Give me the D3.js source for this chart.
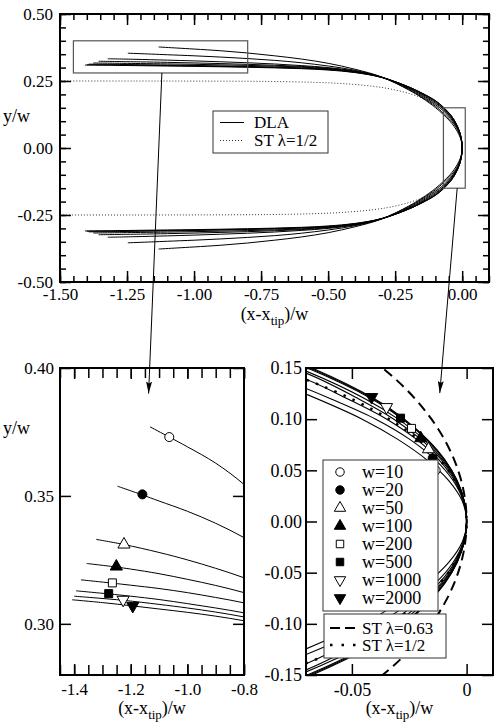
<!DOCTYPE html>
<html>
<head>
<meta charset="utf-8">
<script src="https://cdn.jsdelivr.net/npm/d3@7"></script>
<style>
body { margin: 0; background: #fff; }
text { font-family: "Liberation Serif", "Times New Roman", serif; fill: #000; }
</style>
</head>
<body>
<svg id="fig" width="494" height="726"></svg>
<script>
// finger profiles, upper half, [x/w, y/w] from the tip outwards
var dlaW = [10, 20, 50, 100, 200, 500, 1000, 2000];
var dla10 = [[0,0],[-0.0019,0.02],[-0.0078,0.04],[-0.0172,0.06],[-0.0298,0.08],[-0.0455,0.10],[-0.07,0.1245],[-0.1,0.151],[-0.15,0.187],[-0.2,0.217],[-0.3,0.265],[-0.4,0.294],[-0.5,0.316],[-0.6,0.332],[-0.7,0.344],[-0.8,0.3545],[-0.9,0.3628],[-1.0,0.3692],[-1.064,0.373],[-1.132,0.377]];
var dla20 = [[0,0],[-0.00147,0.02],[-0.0059,0.04],[-0.0135,0.06],[-0.0246,0.08],[-0.0396,0.10],[-0.0593,0.12],[-0.07,0.130],[-0.1,0.156],[-0.15,0.190],[-0.2,0.219],[-0.3,0.264],[-0.4,0.290],[-0.5,0.306],[-0.6,0.318],[-0.7,0.327],[-0.8,0.3337],[-0.9,0.3393],[-1.0,0.344],[-1.1,0.348],[-1.159,0.3504],[-1.247,0.3538]];
var dla50 = [[0,0],[-0.0013,0.02],[-0.00524,0.04],[-0.01195,0.06],[-0.0217,0.08],[-0.0348,0.10],[-0.052,0.12],[-0.07,0.139],[-0.1,0.162],[-0.15,0.194],[-0.2,0.222],[-0.3,0.264],[-0.4,0.2875],[-0.5,0.300],[-0.6,0.3075],[-0.7,0.3135],[-0.8,0.318],[-0.9,0.3217],[-1.0,0.325],[-1.1,0.3279],[-1.224,0.331],[-1.322,0.333]];
var dla100 = [[0,0],[-0.00119,0.02],[-0.00478,0.04],[-0.0109,0.06],[-0.0198,0.08],[-0.0317,0.10],[-0.0472,0.12],[-0.07,0.145],[-0.1,0.167],[-0.15,0.198],[-0.2,0.224],[-0.3,0.264],[-0.4,0.286],[-0.5,0.2975],[-0.6,0.3045],[-0.7,0.3088],[-0.8,0.3122],[-0.9,0.315],[-1.0,0.3174],[-1.1,0.3196],[-1.2,0.3214],[-1.251,0.3222],[-1.356,0.3236]];
var dla200 = [[0,0],[-0.00112,0.02],[-0.0045,0.04],[-0.01027,0.06],[-0.0186,0.08],[-0.0298,0.10],[-0.0443,0.12],[-0.07,0.147],[-0.1,0.171],[-0.15,0.201],[-0.2,0.226],[-0.3,0.264],[-0.4,0.2845],[-0.5,0.2955],[-0.6,0.302],[-0.7,0.3055],[-0.8,0.3082],[-0.9,0.3103],[-1.0,0.3122],[-1.1,0.3138],[-1.2,0.3151],[-1.265,0.3159],[-1.376,0.3172]];
var dla500 = [[0,0],[-0.00105,0.02],[-0.00425,0.04],[-0.00967,0.06],[-0.0175,0.08],[-0.028,0.10],[-0.0415,0.12],[-0.07,0.1505],[-0.1,0.175],[-0.15,0.204],[-0.2,0.228],[-0.3,0.264],[-0.4,0.2835],[-0.5,0.2935],[-0.6,0.299],[-0.7,0.302],[-0.8,0.3043],[-0.9,0.3062],[-1.0,0.3079],[-1.1,0.3095],[-1.2,0.3108],[-1.278,0.3117],[-1.393,0.3129]];
var dla1000 = [[0,0],[-0.00104,0.02],[-0.00417,0.04],[-0.0095,0.06],[-0.0172,0.08],[-0.0275,0.10],[-0.0408,0.12],[-0.07,0.1515],[-0.1,0.176],[-0.15,0.204],[-0.2,0.228],[-0.3,0.2635],[-0.4,0.2825],[-0.5,0.2922],[-0.6,0.2975],[-0.7,0.3005],[-0.8,0.3027],[-0.9,0.3046],[-1.0,0.3062],[-1.1,0.3076],[-1.227,0.3092],[-1.4,0.3108]];
var dla2000 = [[0,0],[-0.00102,0.02],[-0.00412,0.04],[-0.00938,0.06],[-0.017,0.08],[-0.0271,0.10],[-0.0402,0.12],[-0.07,0.1525],[-0.1,0.177],[-0.15,0.205],[-0.2,0.228],[-0.3,0.263],[-0.4,0.2815],[-0.5,0.291],[-0.6,0.296],[-0.7,0.299],[-0.8,0.3012],[-0.9,0.303],[-1.0,0.3045],[-1.1,0.3058],[-1.193,0.307],[-1.3,0.3083],[-1.407,0.3094]];
var dlaUpper = [dla10, dla20, dla50, dla100, dla200, dla500, dla1000, dla2000];

// Saffman-Taylor fingers
var st12Upper = [[0,0],[-0.00126,0.02],[-0.00508,0.04],[-0.01159,0.06],[-0.02101,0.08],[-0.03373,0.10],[-0.05031,0.12],[-0.07168,0.14],[-0.0993,0.16],[-0.1359,0.18],[-0.1869,0.20],[-0.2665,0.22],[-0.3305,0.23],[-0.4405,0.24],[-0.5508,0.245],[-0.6966,0.248],[-0.8069,0.249],[-0.9985,0.2497],[-1.1734,0.2499],[-1.5,0.25]];
var st063Upper = [[0,0],[-0.00059,0.02],[-0.00236,0.04],[-0.00535,0.06],[-0.00963,0.08],[-0.01529,0.10],[-0.02248,0.12],[-0.03139,0.14],[-0.04231,0.16],[-0.04864,0.17]];

// symbols placed on the curves
var tailMarkers = [[-1.064,0.373],[-1.159,0.3506],[-1.224,0.331],[-1.251,0.3224],[-1.265,0.316],[-1.278,0.3118],[-1.227,0.3094],[-1.193,0.307]];
var tipMarkers = [[-0.0135,0.050],[-0.0148,0.0618],[-0.0166,0.0706],[-0.020,0.0814],[-0.024,0.091],[-0.0288,0.101],[-0.0349,0.1118],[-0.0414,0.1216]];
var markerShape = ["circle","circle","triangle","triangle","square","square","down","down"];
var markerFilled = [false,true,false,true,false,true,false,true];

// ticks
var topXTicks = [-1.5,-1.25,-1.0,-0.75,-0.5,-0.25,0];
var topXLabels = ["-1.50","-1.25","-1.00","-0.75","-0.50","-0.25","0.00"];
var topYTicks = [-0.5,-0.25,0,0.25,0.5];
var topYLabels = ["-0.50","-0.25","0.00","0.25","0.50"];
var blXTicks = [-1.4,-1.2,-1.0,-0.8];
var blXLabels = ["-1.4","-1.2","-1.0","-0.8"];
var blYTicks = [0.30,0.35,0.40];
var blYLabels = ["0.30","0.35","0.40"];
var brXTicks = [-0.05,0];
var brXLabels = ["-0.05","0"];
var brYTicks = [-0.15,-0.1,-0.05,0,0.05,0.1,0.15];
var brYLabels = ["-0.15","-0.10","-0.05","0.00","0.05","0.10","0.15"];

var svg = d3.select("#fig");
var defs = svg.append("defs");

function mirror(upper) {
  var lower = upper.map(function(p){ return [p[0], -p[1]]; }).reverse();
  return lower.concat(upper.slice(1));
}

function symPath(shape, size) {
  var t = d3.symbolCircle;
  if (shape == "square") t = d3.symbolSquare;
  if (shape == "triangle" || shape == "down") t = d3.symbolTriangle;
  return d3.symbol(t, size)();
}

function drawMarker(g, px, py, i, size) {
  g.append("path")
    .attr("d", symPath(markerShape[i], size))
    .attr("transform", "translate(" + px + "," + py + ")" + (markerShape[i] == "down" ? " rotate(180)" : ""))
    .attr("fill", markerFilled[i] ? "#000" : "#fff")
    .attr("stroke", "#000")
    .attr("stroke-width", 1);
}

function makePanel(o) {
  var g = svg.append("g").attr("transform", "translate(" + o.left + "," + o.top + ")");
  var x = d3.scaleLinear().domain(o.xDomain).range([0, o.width]);
  var y = d3.scaleLinear().domain(o.yDomain).range([o.height, 0]);
  defs.append("clipPath").attr("id", o.id + "-clip")
    .append("rect").attr("width", o.width).attr("height", o.height);
  var plot = g.append("g").attr("clip-path", "url(#" + o.id + "-clip)");

  function axis(gen, tr, vals, size, fmt, pad) {
    var a = gen.tickValues(vals).tickSize(-size).tickPadding(pad || 0)
      .tickFormat(fmt ? function(d, i){ return fmt[i]; } : "");
    var ag = g.append("g").attr("transform", tr).call(a);
    ag.select(".domain").remove();
    ag.attr("font-size", o.fs);
    ag.selectAll("line").attr("stroke-width", 1.5);
  }
  var bt = "translate(0," + o.height + ")", rt = "translate(" + o.width + ",0)", zt = "translate(0,0)";
  axis(d3.axisBottom(x), bt, o.xTicks, o.tick, o.xLabels, o.xPad);
  axis(d3.axisTop(x), zt, o.xTicks, o.tick);
  axis(d3.axisLeft(y), zt, o.yTicks, o.tick, o.yLabels, o.yPad);
  axis(d3.axisRight(y), rt, o.yTicks, o.tick);
  if (o.xMinor) {
    axis(d3.axisBottom(x), bt, o.xMinor, o.minorTick);
    axis(d3.axisTop(x), zt, o.xMinor, o.minorTick);
  }
  if (o.yMinor) {
    axis(d3.axisLeft(y), zt, o.yMinor, o.minorTick);
    axis(d3.axisRight(y), rt, o.yMinor, o.minorTick);
  }

  // x title with subscript
  var t = g.append("text").attr("x", o.width / 2 + (o.titleDx || 0)).attr("y", o.height + o.titleDy)
    .attr("text-anchor", "middle").style("font-size", o.tfs + "px");
  t.append("tspan").text("(x-x");
  t.append("tspan").attr("dy", 5).style("font-size", Math.round(o.tfs * 0.72) + "px").text("tip");
  t.append("tspan").attr("dy", -5).text(")/w");
  if (o.yTitle) {
    g.append("text").attr("x", 3 - o.left).attr("y", o.yTitleY)
      .style("font-size", o.tfs + "px").text("y/w");
  }
  return { g: g, plot: plot, x: x, y: y, o: o };
}

function frame(p) {
  p.g.append("rect").attr("width", p.o.width).attr("height", p.o.height)
    .attr("fill", "none").attr("stroke", "#000").attr("stroke-width", 2);
}

function lineOf(p) {
  return d3.line().x(function(d){ return p.x(d[0]); }).y(function(d){ return p.y(d[1]); })
    .curve(d3.curveCatmullRom.alpha(0.5));
}

// ---------------- top panel ----------------
var mainP = makePanel({
  id: "main", left: 60, top: 14, width: 429, height: 268,
  xDomain: [-1.5, 0.1], yDomain: [-0.5, 0.5],
  xTicks: topXTicks, xLabels: topXLabels, yTicks: topYTicks, yLabels: topYLabels,
  xMinor: d3.range(-1.5, 0.1001, 0.05), yMinor: d3.range(-0.5, 0.5001, 0.05),
  tick: 11, minorTick: 6, fs: 17, tfs: 18, xPad: 6, yPad: 7,
  titleDy: 38, yTitle: true, yTitleY: 108
});
var lt = lineOf(mainP);
mainP.plot.append("path").attr("d", lt(mirror(st12Upper)))
  .attr("fill", "none").attr("stroke", "#333").attr("stroke-width", 1).attr("stroke-dasharray", "1,2");
dlaUpper.forEach(function(c) {
  mainP.plot.append("path").attr("d", lt(mirror(c)))
    .attr("fill", "none").attr("stroke", "#000").attr("stroke-width", 1);
});
// zoom boxes
function zoomBox(x0, x1, y0, y1) {
  mainP.g.append("rect")
    .attr("x", mainP.x(x0)).attr("y", mainP.y(y1))
    .attr("width", mainP.x(x1) - mainP.x(x0)).attr("height", mainP.y(y0) - mainP.y(y1))
    .attr("fill", "none").attr("stroke", "#555").attr("stroke-width", 1.2);
}
zoomBox(-1.45, -0.8, 0.28, 0.40);
zoomBox(-0.07, 0.0115, -0.15, 0.15);
frame(mainP);

// legend of top panel
var lg = svg.append("g");
lg.append("rect").attr("x", 213).attr("y", 111).attr("width", 115).attr("height", 42)
  .attr("fill", "#fff").attr("stroke", "#333").attr("stroke-width", 1);
lg.append("line").attr("x1", 220).attr("x2", 244).attr("y1", 122.5).attr("y2", 122.5)
  .attr("stroke", "#000").attr("stroke-width", 1);
lg.append("line").attr("x1", 220).attr("x2", 244).attr("y1", 140.5).attr("y2", 140.5)
  .attr("stroke", "#333").attr("stroke-width", 1).attr("stroke-dasharray", "1,2");
lg.append("text").attr("x", 254).attr("y", 128).style("font-size", "17px").text("DLA");
lg.append("text").attr("x", 254).attr("y", 146).style("font-size", "17px").text("ST \u03bb=1/2");

// ---------------- bottom-left panel ----------------
var leftP = makePanel({
  id: "bl", left: 60, top: 368, width: 184, height: 307,
  xDomain: [-1.45, -0.8], yDomain: [0.28, 0.40],
  xTicks: blXTicks, xLabels: blXLabels, yTicks: blYTicks, yLabels: blYLabels,
  xMinor: d3.range(-1.45, -0.7999, 0.05),
  tick: 11, minorTick: 10, fs: 17, tfs: 18, xPad: 8, yPad: 6,
  titleDy: 39, yTitle: true, yTitleY: 66
});
var lb = lineOf(leftP);
dlaUpper.forEach(function(c) {
  leftP.plot.append("path").attr("d", lb(c))
    .attr("fill", "none").attr("stroke", "#000").attr("stroke-width", 1);
});
tailMarkers.forEach(function(m, i) {
  drawMarker(leftP.plot, leftP.x(m[0]), leftP.y(m[1]), i, 64);
});
frame(leftP);

// ---------------- bottom-right panel ----------------
var rightP = makePanel({
  id: "br", left: 306, top: 368, width: 187, height: 307,
  xDomain: [-0.07, 0.0115], yDomain: [-0.15, 0.15],
  xTicks: brXTicks, xLabels: brXLabels, yTicks: brYTicks, yLabels: brYLabels,
  tick: 11, fs: 18, tfs: 18, xPad: 8, yPad: 4,
  titleDy: 39, titleDx: 0, yTitle: false
});
var lr = lineOf(rightP);
rightP.plot.append("path").attr("d", lr(mirror(st063Upper)))
  .attr("fill", "none").attr("stroke", "#000").attr("stroke-width", 2).attr("stroke-dasharray", "10,6");
rightP.plot.append("path").attr("d", lr(mirror(st12Upper)))
  .attr("fill", "none").attr("stroke", "#000").attr("stroke-width", 2.5).attr("stroke-dasharray", "2.5,7.5");
dlaUpper.forEach(function(c) {
  rightP.plot.append("path").attr("d", lr(mirror(c)))
    .attr("fill", "none").attr("stroke", "#000").attr("stroke-width", 1.1);
});
tipMarkers.forEach(function(m, i) {
  drawMarker(rightP.plot, rightP.x(m[0]), rightP.y(m[1]), i, 64);
});
frame(rightP);

// legends of bottom-right panel
var l2 = svg.append("g");
l2.append("rect").attr("x", 323).attr("y", 460).attr("width", 115).attr("height", 151)
  .attr("fill", "#fff").attr("stroke", "#333").attr("stroke-width", 1);
dlaW.forEach(function(w, i) {
  var cy = 472 + 18 * i;
  drawMarker(l2, 340, cy, i, 56);
  l2.append("text").attr("x", 362).attr("y", cy + 6).style("font-size", "18px").text("w=" + w);
});
var l3 = svg.append("g");
l3.append("rect").attr("x", 324).attr("y", 614).attr("width", 122).attr("height", 44)
  .attr("fill", "#fff").attr("stroke", "#333").attr("stroke-width", 1);
l3.append("line").attr("x1", 330).attr("x2", 358).attr("y1", 628).attr("y2", 628)
  .attr("stroke", "#000").attr("stroke-width", 2).attr("stroke-dasharray", "10,5");
l3.append("line").attr("x1", 330).attr("x2", 358).attr("y1", 645).attr("y2", 645)
  .attr("stroke", "#000").attr("stroke-width", 2.5).attr("stroke-dasharray", "2.5,9");
l3.append("text").attr("x", 362).attr("y", 634).style("font-size", "17px").text("ST \u03bb=0.63");
l3.append("text").attr("x", 362).attr("y", 651).style("font-size", "17px").text("ST \u03bb=1/2");

// arrows from the zoom boxes to the panels
defs.append("marker").attr("id", "head").attr("viewBox", "0 0 12 6")
  .attr("refX", 12).attr("refY", 3).attr("markerWidth", 12).attr("markerHeight", 6)
  .attr("orient", "auto").attr("markerUnits", "userSpaceOnUse")
  .append("path").attr("d", "M0,0L12,3L0,6L2,3Z").attr("fill", "#000");
function arrow(p0, a, p1, b) {
  svg.append("line")
    .attr("x1", p0.o.left + p0.x(a[0])).attr("y1", p0.o.top + p0.y(a[1]))
    .attr("x2", p1.o.left + p1.x(b[0])).attr("y2", p1.o.top + p1.y(b[1]))
    .attr("stroke", "#000").attr("stroke-width", 1).attr("marker-end", "url(#head)");
}
arrow(mainP, [-1.12, 0.28], leftP, [-1.137, 0.39]);
arrow(mainP, [-0.0187, -0.15], rightP, [-0.0117, 0.1255]);
</script>
</body>
</html>
